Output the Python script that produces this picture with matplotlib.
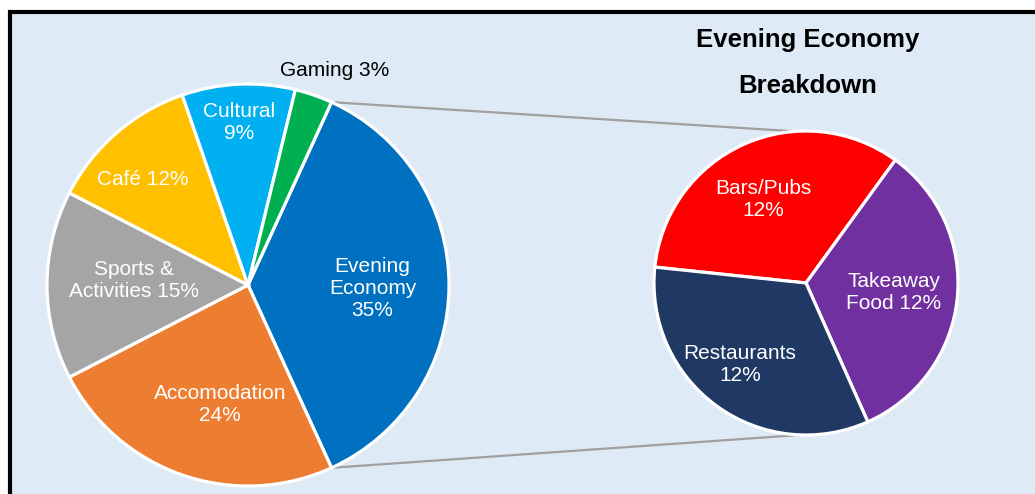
import matplotlib.pyplot as plt
from matplotlib.patches import Rectangle
import numpy as np

plt.rcParams['font.family'] = ['Liberation Sans', 'DejaVu Sans']

# main pie data (clockwise from the split-off wedge)
main_labels = ["Evening\nEconomy\n35%", "Accomodation\n24%", "Sports &\nActivities 15%",
               "Café 12%", "Cultural\n9%", "Gaming 3%"]
other_values = [24, 15, 12, 9, 3]
main_colors = ["#0070C0", "#ED7D31", "#A5A5A5", "#FFC000", "#00B0F0", "#00B050"]

# secondary pie (Evening Economy breakdown)
sub_labels = ["Bars/Pubs\n12%", "Takeaway\nFood 12%", "Restaurants\n12%"]
sub_values = [12, 12, 12]
sub_colors = ["#FF0000", "#7030A0", "#203864"]

main_values = [sum(sub_values)] + other_values

W, H = 1035, 494
fig = plt.figure(figsize=(W / 100, H / 100), dpi=100)
fig.patch.set_facecolor("white")

# panel background with black frame (top/left visible)
fig.patches.append(Rectangle((10 / W, -0.1), 1.2, (H - 12) / H + 0.1, transform=fig.transFigure,
                             facecolor="#DEEAF6", edgecolor="black", linewidth=3, zorder=-5))

ax = fig.add_axes([0, 0, 1, 1])
ax.set_facecolor("none")
ax.set_zorder(1)

c1, r1 = (248, 209), 201
c2, r2 = (806, 211), 152

frac = main_values[0] / sum(main_values)
start = frac * 180
wedges1, _ = ax.pie(main_values, colors=main_colors, radius=r1, center=c1,
                    startangle=start, counterclock=False,
                    wedgeprops=dict(edgecolor="white", linewidth=2.3))
wedges2, _ = ax.pie(sub_values, colors=sub_colors, radius=r2, center=c2,
                    startangle=174, counterclock=False,
                    wedgeprops=dict(edgecolor="white", linewidth=2.3))

# label placement: (radius factor, angle offset)
main_pos = [(0.62, -1.5), (0.61, 6), (0.57, -2.5), (0.74, 4), (0.81, 0.5), (1.15, -3)]
sub_pos = [(0.62, 3), (0.58, 0), (0.69, -3)]

def place(wedges, labels, pos, center, radius, colors):
    for w, lab, (rf, off), col in zip(wedges, labels, pos, colors):
        mid = np.deg2rad((w.theta1 + w.theta2) / 2 + off)
        x = center[0] + rf * radius * np.cos(mid)
        y = center[1] + rf * radius * np.sin(mid)
        ax.text(x, y, lab, ha="center", va="center", fontsize=15, color=col,
                linespacing=1.2)

place(wedges1, main_labels, main_pos, c1, r1, ["white"] * 5 + ["black"])
place(wedges2, sub_labels, sub_pos, c2, r2, ["white"] * 3)

# connector lines
for a1, a2 in [(start, 94), (-start, 268)]:
    p1 = (c1[0] + r1 * np.cos(np.deg2rad(a1)), c1[1] + r1 * np.sin(np.deg2rad(a1)))
    p2 = (c2[0] + r2 * np.cos(np.deg2rad(a2)), c2[1] + r2 * np.sin(np.deg2rad(a2)))
    ax.plot([p1[0], p2[0]], [p1[1], p2[1]], color="#A0A0A0", linewidth=1.6, zorder=0.5)

ax.text(808, H - 40, "Evening Economy", ha="center", va="center", fontsize=18.5, fontweight="bold")
ax.text(808, H - 86, "Breakdown", ha="center", va="center", fontsize=18.5, fontweight="bold")

ax.set_xlim(0, W)
ax.set_ylim(0, H)
ax.set_aspect("equal")
ax.axis("off")

fig.savefig("out.png", dpi=100)
